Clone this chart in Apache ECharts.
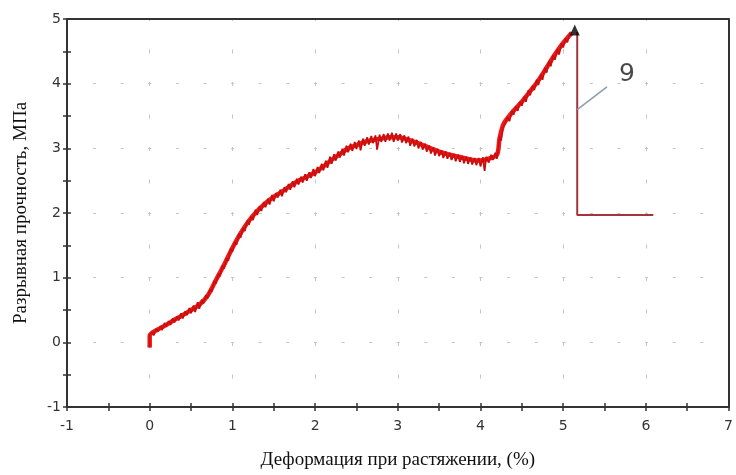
<!DOCTYPE html>
<html>
<head>
<meta charset="utf-8">
<script src="https://cdn.jsdelivr.net/npm/echarts@6/dist/echarts.min.js"></script>
<style>html,body{margin:0;padding:0;background:#fff}#c{width:736px;height:475px}</style>
</head>
<body>
<div id="c"></div>
<script>
// axis settings
var xMin = -1, xMax = 7, yMin = -1, yMax = 5;
var xTitle = 'Деформация при растяжении, (%)';
var yTitle = 'Разрывная прочность, МПа';

// smooth trend of the stress-strain curve
var curveBase = [
  [0.0,-0.08],[0.0,0.1],[0.1,0.2],[0.2,0.27],[0.3,0.35],[0.4,0.42],[0.5,0.5],[0.6,0.58],
  [0.7,0.72],[0.8,0.96],[0.9,1.2],[1.0,1.46],[1.1,1.69],[1.2,1.88],[1.3,2.03],[1.4,2.15],
  [1.5,2.25],[1.6,2.33],[1.7,2.42],[1.8,2.5],[1.9,2.56],[2.0,2.63],[2.1,2.72],[2.2,2.82],
  [2.3,2.91],[2.4,3.0],[2.5,3.05],[2.6,3.1],[2.7,3.13],[2.8,3.15],[2.9,3.17],[3.0,3.17],
  [3.1,3.14],[3.2,3.1],[3.3,3.05],[3.4,3.0],[3.5,2.95],[3.6,2.91],[3.7,2.88],[3.8,2.85],
  [3.9,2.82],[4.0,2.81],[4.1,2.84],[4.2,2.9],[4.23,3.15],[4.27,3.35],[4.3,3.42],[4.4,3.58],
  [4.5,3.72],[4.6,3.88],[4.7,4.05],[4.8,4.25],[4.9,4.45],[5.0,4.63],[5.1,4.78]
];

var curveNoisy = [
  [0.0,-0.08],[0.0,0.12],[0.03,0.16],[0.05,0.11],[0.08,0.21],[0.1,0.17],[0.13,0.25],[0.15,0.19],
  [0.18,0.3],[0.2,0.24],[0.23,0.33],[0.25,0.27],[0.28,0.37],[0.3,0.31],[0.33,0.4],[0.35,0.34],
  [0.38,0.45],[0.4,0.37],[0.43,0.48],[0.45,0.42],[0.48,0.53],[0.5,0.45],[0.53,0.57],[0.55,0.47],
  [0.58,0.62],[0.6,0.52],[0.63,0.66],[0.65,0.6],[0.68,0.73],[0.7,0.68],[0.73,0.82],[0.75,0.78],
  [0.78,0.95],[0.8,0.91],[0.83,1.06],[0.85,1.02],[0.88,1.19],[0.9,1.14],[0.93,1.3],[0.95,1.26],
  [0.98,1.45],[1.0,1.4],[1.03,1.56],[1.05,1.51],[1.08,1.68],[1.1,1.62],[1.13,1.77],[1.15,1.72],
  [1.18,1.88],[1.2,1.82],[1.23,1.95],[1.25,1.89],[1.28,2.05],[1.3,1.97],[1.33,2.1],[1.35,2.03],
  [1.38,2.17],[1.4,2.09],[1.43,2.22],[1.45,2.13],[1.48,2.28],[1.5,2.18],[1.53,2.31],[1.55,2.24],
  [1.58,2.36],[1.6,2.26],[1.63,2.4],[1.65,2.32],[1.68,2.45],[1.7,2.36],[1.73,2.49],[1.75,2.4],
  [1.78,2.53],[1.8,2.44],[1.83,2.56],[1.85,2.47],[1.88,2.6],[1.9,2.5],[1.93,2.63],[1.95,2.54],
  [1.98,2.68],[2.0,2.57],[2.03,2.71],[2.05,2.62],[2.08,2.76],[2.1,2.66],[2.13,2.81],[2.15,2.7],
  [2.18,2.87],[2.2,2.76],[2.23,2.91],[2.25,2.81],[2.28,2.95],[2.3,2.86],[2.33,2.99],[2.35,2.89],
  [2.38,3.04],[2.4,2.94],[2.43,3.07],[2.45,2.96],[2.48,3.1],[2.5,2.99],[2.53,3.12],[2.55,2.97],
  [2.58,3.15],[2.6,3.04],[2.63,3.17],[2.65,3.06],[2.68,3.19],[2.7,3.08],[2.73,3.2],[2.75,2.98],
  [2.78,3.21],[2.8,3.1],[2.83,3.22],[2.85,3.1],[2.88,3.23],[2.9,3.12],[2.93,3.24],[2.95,3.1],
  [2.98,3.23],[3.0,3.12],[3.03,3.22],[3.05,3.09],[3.08,3.2],[3.1,3.08],[3.13,3.18],[3.15,3.04],
  [3.18,3.15],[3.2,3.03],[3.23,3.13],[3.25,3.0],[3.28,3.1],[3.3,2.98],[3.33,3.07],[3.35,2.95],
  [3.38,3.04],[3.4,2.92],[3.43,3.01],[3.45,2.89],[3.48,2.99],[3.5,2.88],[3.53,2.97],[3.55,2.85],
  [3.58,2.95],[3.6,2.84],[3.63,2.93],[3.65,2.82],[3.68,2.91],[3.7,2.8],[3.73,2.9],[3.75,2.79],
  [3.78,2.88],[3.8,2.77],[3.83,2.87],[3.85,2.76],[3.88,2.86],[3.9,2.75],[3.93,2.85],[3.95,2.74],
  [3.98,2.85],[4.0,2.72],[4.03,2.86],[4.05,2.65],[4.07,2.87],[4.1,2.78],[4.13,2.9],[4.15,2.82],
  [4.18,2.93],[4.2,2.84],[4.23,3.18],[4.25,3.12],[4.27,3.32],[4.3,3.38],[4.33,3.48],[4.35,3.42],
  [4.38,3.58],[4.4,3.52],[4.43,3.65],[4.45,3.58],[4.48,3.72],[4.5,3.66],[4.53,3.8],[4.55,3.72],
  [4.58,3.9],[4.6,3.82],[4.63,3.97],[4.65,3.9],[4.68,4.06],[4.7,3.98],[4.73,4.14],[4.75,4.06],
  [4.78,4.25],[4.8,4.17],[4.83,4.35],[4.85,4.27],[4.88,4.44],[4.9,4.37],[4.93,4.53],[4.95,4.45],
  [4.98,4.62],[5.0,4.56],[5.03,4.7],[5.05,4.64],[5.08,4.77],[5.1,4.8]
];

// break indicator (vertical drop and tail)
var breakLine = [[5.17,4.8],[5.17,1.97],[6.09,1.97]];
var breakPoint = [[5.14,4.83]];
// annotation "9"
var labelLeader = [[5.17,3.6],[5.53,3.95]];
var labelPoint = [[5.77,4.14]];
var labelText = '9';

var chart = echarts.init(document.getElementById('c'), null, {renderer:'canvas'});
var axisLineStyle = {color:'#333', width:2};
var labelStyle = {color:'#333', fontFamily:'DejaVu Sans', fontSize:14};
var gridDashH = {color:'#c4c4c4', width:1, type:[3,24.6], dashOffset:1.5};
var gridDashV = {color:'#c4c4c4', width:1, type:[4,28.5], dashOffset:2};
var tickStyle = {color:'#333', width:1.5};

chart.setOption({
  animation:false,
  grid:{left:67, top:19, right:6, bottom:66},
  xAxis:[{
    type:'value', min:xMin, max:xMax, interval:1, position:'bottom',
    axisLine:{show:true, onZero:false, lineStyle:axisLineStyle},
    axisTick:{show:true, length:4, lineStyle:tickStyle},
    minorTick:{show:true, splitNumber:2, length:4, lineStyle:tickStyle},
    axisLabel:Object.assign({margin:12}, labelStyle),
    splitLine:{show:true, lineStyle:gridDashV},
    name:xTitle, nameLocation:'middle', nameGap:44,
    nameTextStyle:{fontFamily:'Liberation Serif', fontSize:19, color:'#111'}
  },{
    type:'value', min:xMin, max:xMax, interval:1, position:'bottom',
    axisLine:{show:false, onZero:false},
    axisTick:{show:true, inside:true, length:4, lineStyle:tickStyle},
    minorTick:{show:true, splitNumber:2, length:4, lineStyle:tickStyle},
    axisLabel:{show:false}, splitLine:{show:false}
  },{
    type:'value', min:xMin, max:xMax, interval:1, position:'top',
    axisLine:{show:true, onZero:false, lineStyle:axisLineStyle},
    axisTick:{show:false}, axisLabel:{show:false}, splitLine:{show:false}
  }],
  yAxis:[{
    type:'value', min:yMin, max:yMax, interval:1, position:'left',
    axisLine:{show:true, onZero:false, lineStyle:axisLineStyle},
    axisTick:{show:true, length:4, lineStyle:tickStyle},
    minorTick:{show:true, splitNumber:2, length:4, lineStyle:tickStyle},
    axisLabel:Object.assign({margin:6}, labelStyle),
    splitLine:{show:true, lineStyle:gridDashH},
    name:yTitle, nameLocation:'middle', nameGap:36, nameRotate:90,
    nameTextStyle:{fontFamily:'Liberation Serif', fontSize:19, color:'#111'}
  },{
    type:'value', min:yMin, max:yMax, interval:1, position:'left',
    axisLine:{show:false, onZero:false},
    axisTick:{show:true, inside:true, length:4, lineStyle:tickStyle},
    minorTick:{show:true, splitNumber:2, length:4, lineStyle:tickStyle},
    axisLabel:{show:false}, splitLine:{show:false}
  },{
    type:'value', min:yMin, max:yMax, interval:1, position:'right',
    axisLine:{show:true, onZero:false, lineStyle:axisLineStyle},
    axisTick:{show:false}, axisLabel:{show:false}, splitLine:{show:false}
  }],
  series:[
    {type:'line', data:curveBase, smooth:0.3, showSymbol:false, lineStyle:{color:'#f01818', width:4.5}, z:2},
    {type:'line', data:curveNoisy, showSymbol:false, lineStyle:{color:'#e41212', width:1.8}, z:3},
    {type:'line', data:curveNoisy, showSymbol:false, lineStyle:{color:'#600a0a', width:0.5, opacity:0.55}, z:4},
    {type:'line', data:breakLine, showSymbol:false, lineStyle:{color:'#a3343e', width:2}, z:3},
    {type:'scatter', data:breakPoint, symbol:'triangle', symbolSize:[10,11], itemStyle:{color:'#000'}, z:5},
    {type:'line', data:labelLeader, showSymbol:false, lineStyle:{color:'#8a9cae', width:1.5}, z:3},
    {type:'scatter', data:labelPoint, symbolSize:0,
     label:{show:true, position:'inside', formatter:labelText, fontFamily:'DejaVu Sans', fontSize:25, color:'#1a1a1a'}, z:5}
  ]
});
</script>
</body>
</html>
